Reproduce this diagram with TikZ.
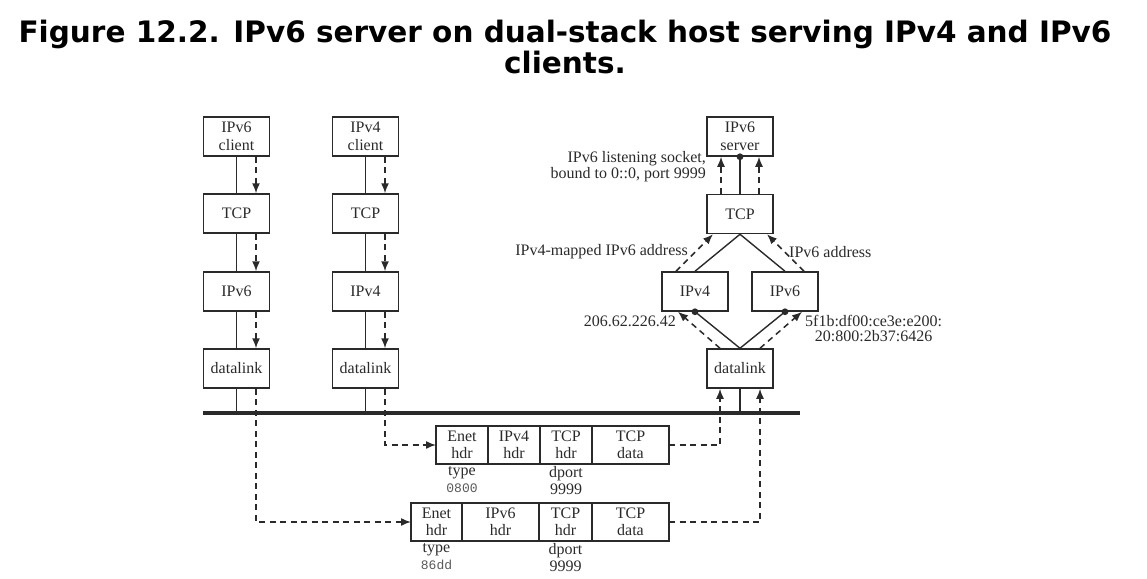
\documentclass[tikz,border=0pt]{standalone}
\usepackage{fontspec}
\setmainfont{Liberation Serif}
\newfontfamily\titlefont{DejaVu Sans}
\newfontfamily\codefont{Liberation Mono}
\usetikzlibrary{arrows.meta,positioning}
\definecolor{ink}{HTML}{2A2A2A}
\tikzset{
	layer/.style={draw=ink,line width=1.5pt,minimum width=66pt,minimum height=39pt,inner sep=0pt,align=center,text=ink,font=\fontsize{16}{17.5}\selectfont},
	field/.style={draw=ink,line width=1.5pt,minimum height=38pt,inner sep=0pt,outer sep=0pt,align=center,text=ink,font=\fontsize{16}{17.5}\selectfont},
	note/.style={inner sep=0pt,text=ink,font=\fontsize{16}{15.5}\selectfont},
	wire/.style={draw=ink,line width=1.4pt},
	flow/.style={draw=ink,line width=1.5pt,dash pattern=on 6pt off 4.5pt,-{Latex[length=10pt,width=8pt]}},
	dot/.style={fill=ink},
}
\begin{document}
\begin{tikzpicture}[x=1pt,y=1pt,yscale=-1]
		\useasboundingbox (0,0) rectangle (1147,578);
		\node[font=\titlefont\bfseries\fontsize{29.5}{31}\selectfont,align=center] (title) at (565,47) {Figure 12.2. IPv6 server on dual-stack host serving IPv4 and IPv6\\clients.};
		% IPv6 client stack
		\node[layer] (cli6) at (236.5,136.5) {IPv6\\client};
		\node[layer] (tcp6) at (236.5,213.5) {TCP};
		\node[layer] (ip6) at (236.5,291.5) {IPv6};
		\node[layer] (dl6) at (236.5,368.5) {datalink};
		% IPv4 client stack
		\node[layer] (cli4) at (365.5,136.5) {IPv4\\client};
		\node[layer] (tcp4) at (365.5,213.5) {TCP};
		\node[layer] (ip4) at (365.5,291.5) {IPv4};
		\node[layer] (dl4) at (365.5,368.5) {datalink};
		% dual-stack server
		\node[layer] (srv) at (740,136.5) {IPv6\\server};
		\node[layer] (tcps) at (740,214) {TCP};
		\node[layer] (ip4s) at (695,291.5) {IPv4};
		\node[layer] (ip6s) at (785,291.5) {IPv6};
		\node[layer] (dls) at (740,368.5) {datalink};
		% ethernet
		\coordinate (ethL) at (203,413);
		\coordinate (ethR) at (800,413);
		\draw[draw=ink,line width=3.4pt] (ethL) -- (ethR);
		% IPv4 frame
		\node[field,minimum width=52pt,anchor=west] (a1) at (436,445) {Enet\\hdr};
		\node[field,minimum width=52pt,right=0pt of a1] (a2) {IPv4\\hdr};
		\node[field,minimum width=52pt,right=0pt of a2] (a3) {TCP\\hdr};
		\node[field,minimum width=77pt,right=0pt of a3] (a4) {TCP\\data};
		\node[note,anchor=north,align=center,font=\fontsize{16}{17}\selectfont] (a1t) at ([yshift=2pt]a1.south) {type\\{\codefont\fontsize{13}{17}\selectfont\color{black!65}0800}};
		\node[note,anchor=north,align=center,font=\fontsize{16}{17}\selectfont] (a3t) at ([yshift=2pt]a3.south) {dport\\9999};
		% IPv6 frame
		\node[field,minimum width=51pt,anchor=west] (b1) at (411,522) {Enet\\hdr};
		\node[field,minimum width=77pt,right=0pt of b1] (b2) {IPv6\\hdr};
		\node[field,minimum width=53pt,right=0pt of b2] (b3) {TCP\\hdr};
		\node[field,minimum width=77pt,right=0pt of b3] (b4) {TCP\\data};
		\node[note,anchor=north,align=center,font=\fontsize{16}{17}\selectfont] (b1t) at ([yshift=2pt]b1.south) {type\\{\codefont\fontsize{13}{17}\selectfont\color{black!65}86dd}};
		\node[note,anchor=north,align=center,font=\fontsize{16}{17}\selectfont] (b3t) at ([yshift=2pt]b3.south) {dport\\9999};
		% client stacks
		\foreach \u/\v in {cli6/tcp6,tcp6/ip6,ip6/dl6,cli4/tcp4,tcp4/ip4,ip4/dl4}{
			\draw[wire] (\u.south) -- (\v.north);
			\draw[flow] ([xshift=19.5pt]\u.south) -- ([xshift=19.5pt]\v.north);
		}
		\draw[wire] (dl6.south) -- (dl6.south |- ethL);
		\draw[wire] (dl4.south) -- (dl4.south |- ethL);
		\draw[flow] ([xshift=19.5pt]dl6.south) |- (b1.west);
		\draw[flow] ([xshift=19.5pt]dl4.south) |- (a1.west);
		% server stack
		\draw[wire] (tcps.north) -- (srv.south);
		\draw[flow] ([xshift=-19pt]tcps.north) -- ([xshift=-19pt]srv.south);
		\draw[flow] ([xshift=19pt]tcps.north) -- ([xshift=19pt]srv.south);
		\fill[dot] (srv.south) circle (3.4pt);
		\draw[wire] (tcps.south) -- (ip4s.north);
		\draw[wire] (tcps.south) -- (ip6s.north);
		\draw[flow] ([xshift=-19pt]ip4s.north) -- ([xshift=-27pt]tcps.south);
		\draw[flow] ([xshift=19pt]ip6s.north) -- ([xshift=27pt]tcps.south);
		\draw[wire] (dls.north) -- (ip4s.south);
		\draw[wire] (dls.north) -- (ip6s.south);
		\fill[dot] (ip4s.south) circle (3.4pt);
		\fill[dot] (ip6s.south) circle (3.4pt);
		\draw[flow] ([xshift=-20pt]dls.north) -- ([xshift=-17pt]ip4s.south);
		\draw[flow] ([xshift=20pt]dls.north) -- ([xshift=17pt]ip6s.south);
		\draw[wire] (dls.south) -- (dls.south |- ethL);
		\draw[flow] (a4.east) -| ([xshift=-20pt]dls.south);
		\draw[flow] (b4.east) -| ([xshift=20pt]dls.south);
		% labels
		\node[note,anchor=east,align=right] (lsock) at (706,166.5) {IPv6 listening socket,\\bound to 0::0, port 9999};
		\node[note,anchor=east] (lmap) at (688,252) {IPv4-mapped IPv6 address};
		\node[note,anchor=west] (l6addr) at (789,252) {IPv6 address};
		\node[note,anchor=east] (l4ip) at (676,321) {206.62.226.42};
		\node[note,anchor=west,align=center] (l6ip) at (805,328.5) {5f1b:df00:ce3e:e200:\\20:800:2b37:6426};
\end{tikzpicture}
\end{document}
